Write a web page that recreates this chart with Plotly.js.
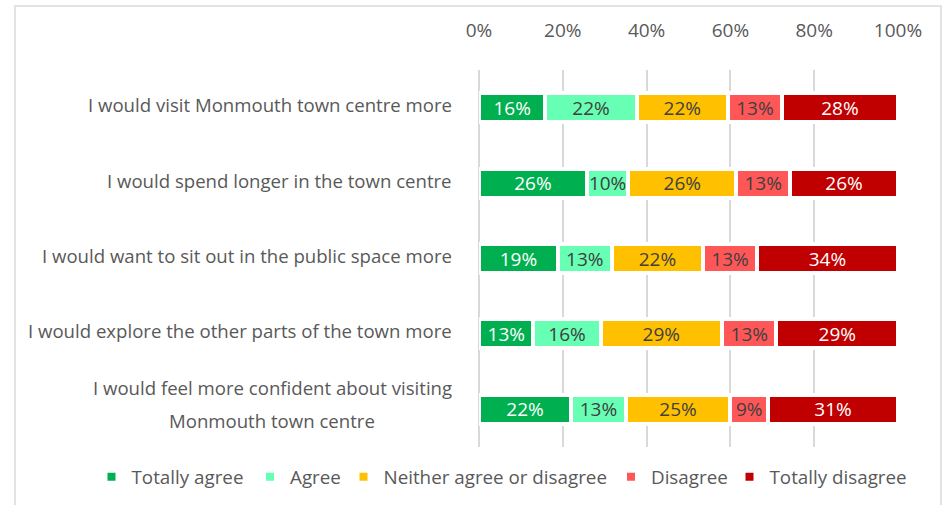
<!DOCTYPE html>
<html>
<head>
<meta charset="utf-8">
<script src="https://cdn.plot.ly/plotly-3.0.1.min.js"></script>
<style>
  html, body { margin: 0; padding: 0; background: #ffffff; }
  #chart { width: 948px; height: 505px; }
</style>
</head>
<body>
<div id="chart"></div>
<script>
// ---- data ----
const categories = [
  "I would visit Monmouth town centre more",
  "I would spend longer in the town centre",
  "I would want to sit out in the public space more",
  "I would explore the other parts of the town more",
  "I would feel more confident about visiting<br>Monmouth town centre"
];
const seriesNames = ["Totally agree", "Agree", "Neither agree or disagree", "Disagree", "Totally disagree"];
const totallyAgree    = [16, 26, 19, 13, 22];
const agree           = [22, 10, 13, 16, 13];
const neither         = [22, 26, 22, 29, 25];
const disagree        = [13, 13, 13, 13, 9];
const totallyDisagree = [28, 26, 34, 29, 31];
const tickVals = [0, 20, 40, 60, 80, 100];
const tickText = ["0%", "20%", "40%", "60%", "80%", "100%"];

// ---- style ----
const FONT = "'Open Sans', sans-serif";
const TEXT_COLOR = "#595959";
const colors = ["#00B050", "#66FFB3", "#FFC000", "#FF5757", "#C00000"];
const labelColors = ["#ffffff", "#404040", "#404040", "#404040", "#ffffff"];
const allSeries = [totallyAgree, agree, neither, disagree, totallyDisagree];
// pixel centres of each legend entry in the 948px-wide figure
const legendCentersPx = [170, 298, 478, 672, 821];
const PLOT_L = 479, PLOT_W = 419, PLOT_T = 70, PLOT_H = 377;
const PLOT_B = PLOT_T + PLOT_H;

const traces = allSeries.map((vals, i) => ({
  type: "bar",
  orientation: "h",
  name: seriesNames[i],
  legend: i === 0 ? "legend" : "legend" + (i + 1),
  y: categories,
  x: vals,
  text: vals.map(v => v + "%"),
  texttemplate: "%{text}",
  textposition: "inside",
  insidetextanchor: "middle",
  constraintext: "none",
  textangle: 0,
  textfont: { family: FONT, size: 19, color: labelColors[i] },
  marker: { color: colors[i], line: { color: "#ffffff", width: 4 } },
  hoverinfo: "skip"
}));

const LABEL_SIZE = 18.6;
function textWidth(t, size) {
  const c = document.createElement("canvas").getContext("2d");
  c.font = size + "px 'Open Sans'";
  return c.measureText(t).width;
}

const annotations = [];
categories.forEach((cat) => {
  const lines = cat.split("<br>");
  if (lines.length === 1) {
    annotations.push({
      xref: "paper", yref: "y", x: 0, y: cat, xanchor: "right", yanchor: "middle",
      xshift: -25, yshift: 3, showarrow: false, text: lines[0],
      font: { family: FONT, size: LABEL_SIZE, color: TEXT_COLOR }
    });
  } else {
    const w1 = textWidth(lines[0], LABEL_SIZE);
    const w2 = textWidth(lines[1], LABEL_SIZE);
    annotations.push({
      xref: "paper", yref: "y", x: 0, y: cat, xanchor: "right", yanchor: "middle",
      xshift: -25, yshift: 22, showarrow: false, text: lines[0],
      font: { family: FONT, size: LABEL_SIZE, color: TEXT_COLOR }
    });
    annotations.push({
      xref: "paper", yref: "y", x: 0, y: cat, xanchor: "right", yanchor: "middle",
      xshift: -25 - (w1 - w2) / 2, yshift: -11, showarrow: false, text: lines[1],
      font: { family: FONT, size: LABEL_SIZE, color: TEXT_COLOR }
    });
  }
});

const layout = {
  width: 948,
  height: 505,
  margin: { l: PLOT_L, r: 948 - PLOT_L - PLOT_W, t: PLOT_T, b: 505 - PLOT_B, autoexpand: false },
  paper_bgcolor: "#ffffff",
  plot_bgcolor: "#ffffff",
  barmode: "stack",
  barnorm: "percent",
  bargap: 0.616,
  font: { family: FONT, color: TEXT_COLOR, size: 16 },
  showlegend: true,
  xaxis: {
    side: "top",
    range: [0, 100],
    tickvals: tickVals,
    ticktext: tickText,
    showgrid: true,
    gridcolor: "#d9d9d9",
    gridwidth: 1.5,
    zeroline: true,
    zerolinecolor: "#d9d9d9",
    zerolinewidth: 1.5,
    showline: false,
    ticks: "",
    ticklabelstandoff: 28,
    tickfont: { family: FONT, size: 19, color: TEXT_COLOR },
    automargin: false,
    fixedrange: true
  },
  yaxis: {
    type: "category",
    autorange: "reversed",
    showticklabels: false,
    showgrid: false,
    zeroline: false,
    ticks: "",
    automargin: false,
    fixedrange: true
  },
  annotations: annotations,
  shapes: [{
    type: "rect", xref: "paper", yref: "paper",
    x0: (15 - PLOT_L) / PLOT_W, x1: (941 - PLOT_L) / PLOT_W,
    y0: -(515 - PLOT_B) / PLOT_H, y1: (PLOT_B - 6) / PLOT_H,
    line: { color: "#e3e3e3", width: 2 },
    fillcolor: "rgba(0,0,0,0)",
    layer: "below"
  }]
};

legendCentersPx.forEach((cx, i) => {
  const key = i === 0 ? "legend" : "legend" + (i + 1);
  layout[key] = {
    orientation: "h",
    x: (cx - PLOT_L) / PLOT_W, xanchor: "center",
    y: -(477 - PLOT_B) / PLOT_H, yanchor: "middle",
    font: { family: FONT, size: 18.8, color: TEXT_COLOR },
    itemclick: false, itemdoubleclick: false,
    bgcolor: "rgba(0,0,0,0)"
  };
});

Plotly.newPlot("chart", traces, layout, { displayModeBar: false, staticPlot: false });
</script>
</body>
</html>
